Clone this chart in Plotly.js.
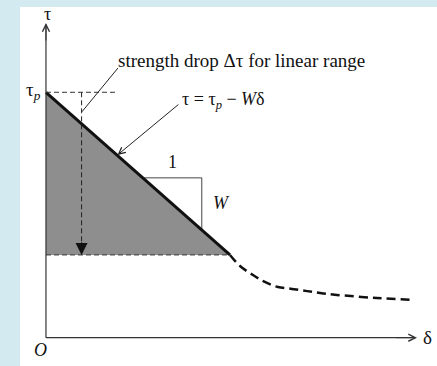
<!DOCTYPE html>
<html>
<head>
<meta charset="utf-8">
<script src="https://cdn.plot.ly/plotly-3.0.1.min.js"></script>
<style>
  html, body { margin: 0; padding: 0; background: #d3eaf0; }
  #chart { width: 437px; height: 366px; }
</style>
</head>
<body>
<div id="chart"></div>
<script>
// Linear slip-weakening law: tau = tau_p - W * delta, then a softening tail.
const tauPeak = 7.8;          // peak strength tau_p
const tauResidual = 2.63;     // strength at the end of the linear range
const deltaLinearEnd = 4.96;  // slip at the end of the linear range
const W = (tauPeak - tauResidual) / deltaLinearEnd;

// Softening tail beyond the linear range (dashed curve)
const tailDelta = [4.96, 5.23, 5.58, 5.90, 6.25, 6.63, 7.04, 7.39, 7.84, 8.92, 9.89];
const tailTau   = [2.63, 2.28, 1.99, 1.77, 1.61, 1.55, 1.48, 1.42, 1.36, 1.26, 1.20];

// Axis extents (delta and tau)
const deltaMax = 10.0;
const tauMax = 10.0;

// Marker lines: peak level guide, strength-drop arrow and slope triangle
const peakGuideEnd = 1.86;
const dropArrowDelta = 0.96;
const slopeRun = [2.61, 4.20];   // horizontal leg of the slope triangle

const lineTau = d => tauPeak - W * d;

const serif = 'Liberation Serif, Times New Roman, serif';
const ink = '#111111';

const traces = [
  // strength drop area under the linear branch
  {
    x: [0, deltaLinearEnd, 0, 0],
    y: [tauPeak, tauResidual, tauResidual, tauPeak],
    mode: 'lines', fill: 'toself', fillcolor: '#8e8e8e',
    line: { width: 0 }, hoverinfo: 'skip'
  },
  // slope triangle legs
  {
    x: [slopeRun[0], slopeRun[1], slopeRun[1]],
    y: [lineTau(slopeRun[0]), lineTau(slopeRun[0]), lineTau(slopeRun[1])],
    mode: 'lines', line: { color: '#444', width: 1 }, hoverinfo: 'skip'
  },
  // linear weakening branch
  {
    x: [0, deltaLinearEnd],
    y: [tauPeak, tauResidual],
    mode: 'lines', line: { color: ink, width: 3 }, hoverinfo: 'skip'
  },
  // softening tail
  {
    x: tailDelta, y: tailTau,
    mode: 'lines', line: { color: ink, width: 2.5, dash: '9px,5px', shape: 'spline' },
    hoverinfo: 'skip'
  },
  // peak level guide
  {
    x: [0, peakGuideEnd], y: [tauPeak, tauPeak],
    mode: 'lines', line: { color: '#333', width: 1, dash: '5px,3px' }, hoverinfo: 'skip'
  },
  // residual level guide
  {
    x: [0, deltaLinearEnd], y: [tauResidual, tauResidual],
    mode: 'lines', line: { color: '#333', width: 1, dash: '5px,3px' }, hoverinfo: 'skip'
  },
  // strength drop arrow shaft
  {
    x: [dropArrowDelta, dropArrowDelta], y: [tauPeak, tauResidual + 0.3],
    mode: 'lines', line: { color: '#222', width: 1, dash: '5px,3px' }, hoverinfo: 'skip'
  },
  // leader line for the strength drop label
  {
    x: [dropArrowDelta + 0.01, 1.94], y: [7.18, 8.57],
    mode: 'lines', line: { color: '#222', width: 1 }, hoverinfo: 'skip'
  },
  // axes
  {
    x: [0, deltaMax - 0.05], y: [0, 0],
    mode: 'lines', line: { color: '#333', width: 1.2 }, hoverinfo: 'skip'
  },
  {
    x: [0, 0], y: [0, tauMax - 0.05],
    mode: 'lines', line: { color: '#333', width: 1.2 }, hoverinfo: 'skip'
  }
];

const textFont = { family: serif, size: 18, color: ink };

const annotations = [
  // axis arrowheads
  { x: deltaMax, y: 0, ax: deltaMax - 0.6, ay: 0, xref: 'x', yref: 'y', axref: 'x', ayref: 'y',
    text: '', showarrow: true, arrowhead: 5, arrowsize: 1.4, arrowwidth: 1, arrowcolor: '#333' },
  { x: 0, y: tauMax, ax: 0, ay: tauMax - 0.6, xref: 'x', yref: 'y', axref: 'x', ayref: 'y',
    text: '', showarrow: true, arrowhead: 5, arrowsize: 1.4, arrowwidth: 1, arrowcolor: '#333' },
  // filled head of the strength drop arrow
  { x: dropArrowDelta, y: tauResidual, ax: dropArrowDelta, ay: tauResidual + 0.45,
    xref: 'x', yref: 'y', axref: 'x', ayref: 'y',
    text: '', showarrow: true, arrowhead: 2, arrowsize: 2.4, arrowwidth: 1, arrowcolor: '#111' },
  // leader arrow for the law label
  { x: 1.93, y: lineTau(1.93) + 0.02, ax: 3.61, ay: 7.45, xref: 'x', yref: 'y', axref: 'x', ayref: 'y',
    text: '', showarrow: true, arrowhead: 5, arrowsize: 1.3, arrowwidth: 1, arrowcolor: '#222' },

  // labels
  { x: 1.89, y: 8.80, xref: 'x', yref: 'y', xanchor: 'left', yanchor: 'middle', showarrow: false,
    text: 'strength drop Δτ for linear range', font: { family: serif, size: 19, color: ink } },
  { x: 3.61, y: 7.55, xref: 'x', yref: 'y', xanchor: 'left', yanchor: 'middle', showarrow: false,
    text: 'τ = τ<sub><i>p</i></sub> − <i>W</i>δ', font: textFont },
  { x: 3.40, y: 5.58, xref: 'x', yref: 'y', xanchor: 'center', yanchor: 'middle', showarrow: false,
    text: '1', font: textFont },
  { x: 4.74, y: 4.28, xref: 'x', yref: 'y', xanchor: 'center', yanchor: 'middle', showarrow: false,
    text: '<i>W</i>', font: textFont },
  { x: 0.03, y: 10.28, xref: 'x', yref: 'y', xanchor: 'center', yanchor: 'middle', showarrow: false,
    text: 'τ', font: textFont },
  { x: -0.08, y: 7.84, xref: 'x', yref: 'y', xanchor: 'right', yanchor: 'middle', showarrow: false,
    text: 'τ<sub><i>p</i></sub>', font: { family: serif, size: 19, color: ink } },
  { x: -0.16, y: -0.40, xref: 'x', yref: 'y', xanchor: 'center', yanchor: 'middle', showarrow: false,
    text: '<i>O</i>', font: textFont },
  { x: 10.28, y: 0.0, xref: 'x', yref: 'y', xanchor: 'center', yanchor: 'middle', showarrow: false,
    text: 'δ', font: { family: serif, size: 19, color: ink } }
];

const layout = {
  width: 437, height: 366,
  margin: { l: 20, r: 0, t: 7, b: 0, pad: 0 },
  paper_bgcolor: '#d3eaf0',
  plot_bgcolor: '#ffffff',
  showlegend: false,
  xaxis: { range: [-0.70, 10.54], visible: false, fixedrange: true },
  yaxis: { range: [-0.90, 10.51], visible: false, fixedrange: true },
  annotations: annotations
};

Plotly.newPlot('chart', traces, layout, { staticPlot: true, displayModeBar: false });
</script>
</body>
</html>
